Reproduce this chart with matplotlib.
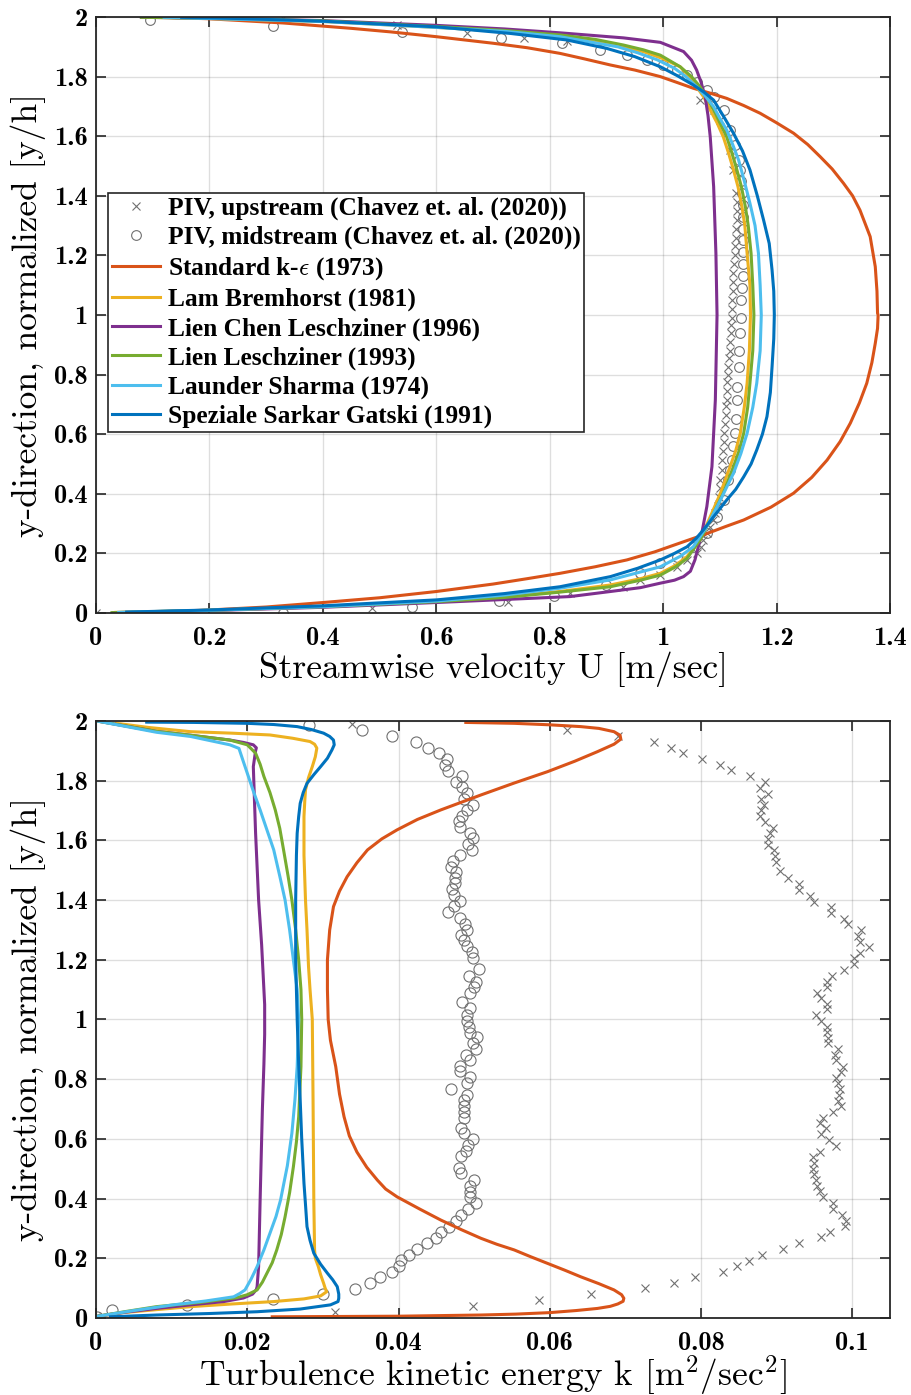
import matplotlib
matplotlib.use("Agg")
import matplotlib.pyplot as plt
from matplotlib.ticker import FixedLocator, FuncFormatter

plt.rcParams['mathtext.fontset'] = 'cm'

# ---------------- top panel: streamwise velocity U ----------------
piv_up_U = [0.0, 0.486, 0.727, 0.836, 0.93, 0.959, 0.995, 1.024, 1.042, 1.059, 1.066, 1.071,
            1.078, 1.083, 1.088, 1.092, 1.096, 1.098, 1.100, 1.101, 1.103, 1.104, 1.106, 1.107,
            1.107, 1.109, 1.110, 1.111, 1.112, 1.113, 1.112, 1.114, 1.115, 1.116, 1.117, 1.118,
            1.119, 1.120, 1.121, 1.121, 1.122, 1.123, 1.124, 1.124, 1.125, 1.126, 1.127, 1.128,
            1.129, 1.130, 1.131, 1.130, 1.128, 1.124, 1.118, 1.112, 1.101, 1.089, 1.065,
            0.83, 0.754, 0.654, 0.53, 0.33]
piv_up_y = [0.0, 0.016, 0.038, 0.067, 0.088, 0.111, 0.127, 0.155, 0.178, 0.200, 0.222, 0.245,
            0.267, 0.290, 0.312, 0.335, 0.360, 0.390, 0.420, 0.446, 0.480, 0.513, 0.545, 0.575,
            0.603, 0.635, 0.665, 0.695, 0.715, 0.745, 0.775, 0.800, 0.826, 0.855, 0.880, 0.910,
            0.938, 0.965, 0.990, 1.020, 1.050, 1.080, 1.110, 1.140, 1.170, 1.200, 1.230, 1.260,
            1.290, 1.320, 1.350, 1.380, 1.410, 1.487, 1.554, 1.610, 1.655, 1.688, 1.722,
            1.920, 1.928, 1.947, 1.973, 1.998]

piv_mid_U = [0.329, 0.558, 0.71, 0.807, 0.90, 0.959, 0.995, 1.024, 1.053, 1.077, 1.095, 1.107,
             1.115, 1.118, 1.121, 1.124, 1.127, 1.128, 1.130, 1.131, 1.133, 1.134, 1.136, 1.137,
             1.138, 1.139, 1.140, 1.140, 1.141, 1.141, 1.140, 1.141, 1.140, 1.139, 1.138, 1.136,
             1.133, 1.127, 1.118, 1.107, 1.089, 1.077, 1.059, 1.042, 1.024, 1.0, 0.971, 0.936,
             0.889, 0.821, 0.714, 0.539, 0.312, 0.095]
piv_mid_y = [0.001, 0.019, 0.041, 0.057, 0.095, 0.133, 0.166, 0.189, 0.222, 0.267, 0.323, 0.379,
             0.446, 0.480, 0.513, 0.560, 0.603, 0.650, 0.715, 0.760, 0.826, 0.880, 0.938, 0.990,
             1.050, 1.090, 1.130, 1.170, 1.210, 1.250, 1.290, 1.330, 1.370, 1.410, 1.450, 1.485,
             1.520, 1.570, 1.620, 1.688, 1.733, 1.755, 1.783, 1.805, 1.822, 1.839, 1.856, 1.872,
             1.889, 1.912, 1.928, 1.951, 1.970, 1.990]

ske_U = [0.10, 0.20, 0.30, 0.40, 0.50, 0.60, 0.70, 0.76, 0.818, 0.88, 0.936, 0.985, 1.030,
         1.071, 1.110, 1.142, 1.190, 1.230, 1.262, 1.289, 1.312, 1.330, 1.346, 1.359, 1.368,
         1.374, 1.378, 1.379, 1.378, 1.377, 1.374, 1.365, 1.347, 1.334, 1.318, 1.298, 1.277,
         1.255, 1.230, 1.200, 1.171, 1.142, 1.112, 1.082, 1.053, 1.025, 0.995, 0.95, 0.907,
         0.86, 0.818, 0.76, 0.70, 0.60, 0.52, 0.45, 0.33, 0.20, 0.12]
ske_y = [0.003, 0.010, 0.020, 0.035, 0.051, 0.072, 0.097, 0.115, 0.133, 0.155, 0.178, 0.205,
         0.235, 0.262, 0.290, 0.312, 0.355, 0.402, 0.455, 0.513, 0.575, 0.637, 0.705, 0.771,
         0.840, 0.905, 0.955, 1.0, 1.006, 1.08, 1.162, 1.263, 1.352, 1.400, 1.442, 1.490,
         1.531, 1.572, 1.610, 1.645, 1.677, 1.703, 1.727, 1.745, 1.761, 1.780, 1.800, 1.822,
         1.839, 1.860, 1.878, 1.897, 1.912, 1.934, 1.950, 1.962, 1.980, 1.994, 1.999]

lb_U = [0.035, 0.2, 0.40, 0.601, 0.72, 0.818, 0.907, 0.96, 0.995, 1.022, 1.042, 1.065, 1.083,
        1.101, 1.118, 1.128, 1.136, 1.143, 1.148, 1.152, 1.154, 1.153, 1.148, 1.144, 1.139,
        1.132, 1.124, 1.115, 1.106, 1.095, 1.083, 1.072, 1.059, 1.046, 1.030, 1.0, 0.965,
        0.90, 0.818, 0.72, 0.601, 0.40, 0.2, 0.10]
lb_y = [0.002, 0.009, 0.021, 0.038, 0.054, 0.072, 0.094, 0.115, 0.133, 0.160, 0.189, 0.245,
        0.323, 0.402, 0.491, 0.545, 0.603, 0.690, 0.771, 0.880, 1.0, 1.1, 1.207, 1.300, 1.363,
        1.430, 1.487, 1.545, 1.598, 1.645, 1.688, 1.730, 1.766, 1.800, 1.833, 1.860, 1.884,
        1.910, 1.934, 1.952, 1.965, 1.985, 1.995, 1.999]

lcl_U = [0.03, 0.2, 0.40, 0.636, 0.836, 0.907, 0.96, 0.995, 1.02, 1.036, 1.048, 1.056, 1.068,
         1.077, 1.086, 1.092, 1.095, 1.093, 1.089, 1.083, 1.079, 1.074, 1.067, 1.059, 1.050,
         1.036, 0.995, 0.93, 0.818, 0.72, 0.60, 0.40, 0.2, 0.08]
lcl_y = [0.001, 0.008, 0.019, 0.038, 0.055, 0.072, 0.085, 0.100, 0.110, 0.122, 0.140, 0.178,
         0.267, 0.357, 0.491, 0.715, 1.0, 1.207, 1.431, 1.598, 1.670, 1.733, 1.780, 1.822,
         1.855, 1.884, 1.915, 1.930, 1.947, 1.960, 1.972, 1.988, 1.996, 1.999]

ll_U = [0.028, 0.2, 0.40, 0.601, 0.72, 0.818, 0.907, 0.96, 0.995, 1.022, 1.042, 1.065, 1.086,
        1.106, 1.124, 1.134, 1.142, 1.149, 1.153, 1.158, 1.160, 1.158, 1.155, 1.150, 1.145,
        1.138, 1.130, 1.121, 1.112, 1.100, 1.089, 1.077, 1.065, 1.050, 1.030, 0.995, 0.965,
        0.93, 0.88, 0.818, 0.72, 0.601, 0.40, 0.2, 0.08]
ll_y = [0.001, 0.009, 0.021, 0.038, 0.052, 0.070, 0.088, 0.110, 0.127, 0.155, 0.183, 0.245,
        0.323, 0.402, 0.491, 0.545, 0.603, 0.690, 0.771, 0.880, 1.0, 1.1, 1.207, 1.300, 1.363,
        1.430, 1.487, 1.545, 1.598, 1.645, 1.688, 1.730, 1.766, 1.800, 1.833, 1.872, 1.890,
        1.906, 1.925, 1.940, 1.955, 1.968, 1.987, 1.996, 1.999]

ls_U = [0.04, 0.2, 0.40, 0.601, 0.72, 0.818, 0.907, 0.995, 1.03, 1.053, 1.077, 1.101, 1.124,
        1.137, 1.148, 1.158, 1.165, 1.171, 1.173, 1.171, 1.168, 1.162, 1.153, 1.143, 1.133,
        1.122, 1.112, 1.100, 1.089, 1.075, 1.059, 1.040, 1.020, 0.99, 0.955, 0.92, 0.818,
        0.72, 0.601, 0.40, 0.2, 0.12]
ls_y = [0.002, 0.009, 0.021, 0.040, 0.060, 0.083, 0.111, 0.155, 0.190, 0.222, 0.290, 0.379,
        0.469, 0.535, 0.603, 0.690, 0.771, 0.880, 1.0, 1.1, 1.207, 1.300, 1.375, 1.450, 1.520,
        1.575, 1.621, 1.660, 1.699, 1.733, 1.766, 1.800, 1.828, 1.856, 1.880, 1.900, 1.934,
        1.952, 1.965, 1.985, 1.995, 1.999]

ssg_U = [0.054, 0.2, 0.40, 0.601, 0.72, 0.818, 0.907, 0.955, 0.995, 1.020, 1.042, 1.058, 1.071,
         1.089, 1.112, 1.128, 1.142, 1.155, 1.165, 1.175, 1.183, 1.189, 1.192, 1.195, 1.196,
         1.195, 1.192, 1.187, 1.177, 1.166, 1.153, 1.140, 1.124, 1.107, 1.089, 1.072, 1.053,
         1.025, 0.995, 0.95, 0.90, 0.83, 0.73, 0.601, 0.40, 0.25, 0.151]
ssg_y = [0.003, 0.010, 0.024, 0.044, 0.065, 0.088, 0.122, 0.150, 0.178, 0.200, 0.222, 0.250,
         0.279, 0.323, 0.379, 0.415, 0.457, 0.500, 0.547, 0.600, 0.659, 0.740, 0.826, 0.920,
         1.0, 1.08, 1.151, 1.240, 1.319, 1.400, 1.487, 1.550, 1.610, 1.665, 1.721, 1.748,
         1.772, 1.803, 1.833, 1.867, 1.895, 1.923, 1.945, 1.967, 1.986, 1.995, 1.999]

# ---------------- bottom panel: turbulence kinetic energy k ----------------
piv_up_k = [0.0, 0.0316, 0.0499, 0.0586, 0.0655, 0.0726, 0.0764, 0.0792, 0.0829, 0.0848, 0.0863,
            0.0881, 0.0908, 0.0929, 0.0959, 0.0970, 0.0991, 0.0992, 0.0986, 0.0974, 0.0974,
            0.0962, 0.0957, 0.0953, 0.0952, 0.0949, 0.0948, 0.0949, 0.0948, 0.0958, 0.0979,
            0.0969, 0.0959, 0.0965, 0.0957, 0.0962, 0.0975, 0.0985, 0.0981, 0.0982, 0.0984,
            0.0981, 0.0979, 0.0985, 0.0988, 0.0978, 0.0977, 0.0981, 0.0968, 0.0968, 0.0966,
            0.0966, 0.0959, 0.0952, 0.0966, 0.0966, 0.0959, 0.0953, 0.0966, 0.0966, 0.0973,
            0.0989, 0.1002, 0.1002, 0.1010, 0.1022, 0.1010, 0.1007, 0.1012, 0.0995, 0.0989,
            0.0972, 0.0972, 0.0950, 0.0944, 0.0929, 0.0929, 0.0915, 0.0905, 0.0899, 0.0898,
            0.0897, 0.0888, 0.0889, 0.0891, 0.0895, 0.0885, 0.0878, 0.0879, 0.0883, 0.0879,
            0.0888, 0.0878, 0.0885, 0.0865, 0.0840, 0.0825, 0.0802, 0.0776, 0.0760, 0.0738,
            0.0690, 0.0623, 0.0339]
piv_up_ky = [0.004, 0.021, 0.040, 0.060, 0.079, 0.099, 0.116, 0.136, 0.155, 0.174, 0.192,
             0.211, 0.230, 0.250, 0.270, 0.289, 0.308, 0.326, 0.345, 0.365, 0.384,
             0.406, 0.426, 0.443, 0.462, 0.481, 0.498, 0.518, 0.538, 0.557, 0.577,
             0.596, 0.616, 0.635, 0.652, 0.669, 0.691, 0.710, 0.728, 0.747, 0.766,
             0.786, 0.803, 0.825, 0.842, 0.864, 0.881, 0.900, 0.920, 0.937, 0.957,
             0.976, 0.996, 1.015, 1.034, 1.052, 1.071, 1.090, 1.110, 1.127, 1.146,
             1.166, 1.186, 1.205, 1.224, 1.242, 1.261, 1.280, 1.300, 1.319, 1.337,
             1.358, 1.376, 1.395, 1.414, 1.434, 1.453, 1.473, 1.497, 1.527, 1.547,
             1.567, 1.586, 1.605, 1.624, 1.641, 1.660, 1.680, 1.700, 1.719, 1.738,
             1.755, 1.774, 1.797, 1.814, 1.834, 1.852, 1.872, 1.892, 1.909, 1.929,
             1.948, 1.968, 1.990]

piv_mid_k = [0.0001, 0.0021, 0.0120, 0.0234, 0.0300, 0.0342, 0.0362, 0.0376, 0.0392, 0.0400,
             0.0403, 0.0414, 0.0425, 0.0438, 0.0449, 0.0456, 0.0467, 0.0476, 0.0482, 0.0492,
             0.0502, 0.0494, 0.0494, 0.0494, 0.0500, 0.0482, 0.0480, 0.0482, 0.0489, 0.0492,
             0.0499, 0.0486, 0.0482, 0.0486, 0.0487, 0.0486, 0.0487, 0.0491, 0.0470, 0.0491,
             0.0495, 0.0481, 0.0481, 0.0495, 0.0489, 0.0502, 0.0498, 0.0504, 0.0495, 0.0493,
             0.0491, 0.0491, 0.0495, 0.0484, 0.0495, 0.0500, 0.0502, 0.0493, 0.0506, 0.0498,
             0.0497, 0.0491, 0.0487, 0.0482, 0.0491, 0.0488, 0.0481, 0.0466, 0.0474, 0.0481,
             0.0474, 0.0471, 0.0475, 0.0475, 0.0476, 0.0470, 0.0472, 0.0481, 0.0497, 0.0492,
             0.0498, 0.0495, 0.0481, 0.0480, 0.0484, 0.0490, 0.0498, 0.0487, 0.0491, 0.0484,
             0.0476, 0.0484, 0.0466, 0.0462, 0.0464, 0.0453, 0.0439, 0.0423, 0.0392, 0.0352,
             0.0281]
piv_mid_ky = [0.004, 0.027, 0.044, 0.063, 0.079, 0.097, 0.116, 0.136, 0.155, 0.174,
              0.194, 0.211, 0.230, 0.250, 0.269, 0.289, 0.306, 0.326, 0.345, 0.365,
              0.386, 0.404, 0.421, 0.442, 0.462, 0.485, 0.502, 0.541, 0.561, 0.578,
              0.599, 0.619, 0.636, 0.670, 0.689, 0.709, 0.729, 0.748, 0.767, 0.787,
              0.806, 0.826, 0.843, 0.863, 0.882, 0.901, 0.920, 0.940, 0.955, 0.975,
              0.995, 1.015, 1.038, 1.057, 1.090, 1.110, 1.127, 1.146, 1.170, 1.206,
              1.226, 1.245, 1.265, 1.282, 1.301, 1.321, 1.340, 1.360, 1.379, 1.398,
              1.418, 1.437, 1.457, 1.474, 1.494, 1.512, 1.532, 1.552, 1.568, 1.589,
              1.608, 1.624, 1.645, 1.664, 1.680, 1.700, 1.719, 1.738, 1.758, 1.778,
              1.797, 1.814, 1.832, 1.852, 1.872, 1.892, 1.909, 1.929, 1.948, 1.968,
              1.987]

ske_k = [0.0233, 0.0400, 0.0509, 0.0555, 0.0600, 0.0635, 0.0663, 0.0680, 0.0690, 0.0697,
         0.0698, 0.0695, 0.0685, 0.0665, 0.0641, 0.0620, 0.0597, 0.0575, 0.0553, 0.0530,
         0.0509, 0.0483, 0.0456, 0.0428, 0.0398, 0.0383, 0.0372, 0.0358, 0.0345, 0.0335,
         0.0328, 0.0322, 0.0317, 0.0310, 0.0307, 0.0306, 0.0306, 0.0309, 0.0314, 0.0322,
         0.0332, 0.0345, 0.0359, 0.0378, 0.0398, 0.0425, 0.0456, 0.0509, 0.0553, 0.0597,
         0.0633, 0.0663, 0.0685, 0.0694, 0.0693, 0.0685, 0.0665, 0.0641, 0.0600, 0.0553,
         0.0489]
ske_ky = [0.004, 0.006, 0.010, 0.013, 0.018, 0.025, 0.032, 0.039, 0.047, 0.056,
          0.066, 0.078, 0.094, 0.115, 0.138, 0.160, 0.183, 0.205, 0.228, 0.247,
          0.267, 0.296, 0.328, 0.365, 0.406, 0.432, 0.462, 0.505, 0.556, 0.610,
          0.674, 0.750, 0.842, 0.930, 1.0, 1.1, 1.2, 1.300, 1.378, 1.430,
          1.478, 1.525, 1.568, 1.605, 1.635, 1.670, 1.702, 1.752, 1.792, 1.830,
          1.865, 1.897, 1.922, 1.939, 1.952, 1.964, 1.975, 1.981, 1.987, 1.992,
          1.995]

lb_k = [0.0, 0.0036, 0.0080, 0.0125, 0.0180, 0.0235, 0.0275, 0.0297, 0.0305, 0.0303, 0.0301,
        0.0297, 0.0294, 0.0290, 0.0289, 0.0288, 0.0287, 0.0286, 0.0283, 0.0281, 0.0279, 0.0277,
        0.0275, 0.0275, 0.0276, 0.0277, 0.0281, 0.0286, 0.0290, 0.0292, 0.0289, 0.0283, 0.0260,
        0.0230, 0.0180, 0.0125, 0.0070, 0.0027]
lb_ky = [0.005, 0.018, 0.028, 0.038, 0.047, 0.055, 0.064, 0.074, 0.088, 0.100, 0.116,
         0.145, 0.172, 0.200, 0.228, 0.395, 0.730, 1.0, 1.1, 1.177, 1.300, 1.400,
         1.550, 1.680, 1.730, 1.769, 1.810, 1.847, 1.880, 1.909, 1.922, 1.931, 1.942,
         1.953, 1.959, 1.964, 1.978, 1.992]

lcl_k = [0.0, 0.0040, 0.0080, 0.0125, 0.0169, 0.0195, 0.0207, 0.0212, 0.0213, 0.0215, 0.0217,
         0.0220, 0.0222, 0.0223, 0.0223, 0.0221, 0.0219, 0.0215, 0.0211, 0.0208, 0.0211, 0.0212,
         0.0208, 0.0195, 0.0177, 0.0125, 0.0080, 0.0003]
lcl_ky = [0.005, 0.020, 0.032, 0.044, 0.055, 0.067, 0.080, 0.095, 0.105, 0.172, 0.395,
          0.700, 0.850, 0.950, 1.050, 1.150, 1.250, 1.40, 1.624, 1.847, 1.900, 1.910,
          1.920, 1.928, 1.936, 1.952, 1.965, 1.999]

ll_k = [0.0, 0.0040, 0.0080, 0.0140, 0.0186, 0.0200, 0.0213, 0.0220, 0.0226, 0.0233, 0.0239,
        0.0245, 0.0250, 0.0256, 0.0261, 0.0265, 0.0268, 0.0271, 0.0272, 0.0271, 0.0268, 0.0264,
        0.0259, 0.0254, 0.0248, 0.0243, 0.0237, 0.0230, 0.0222, 0.0217, 0.0211, 0.0200, 0.0177,
        0.0125, 0.0080, 0.0003]
ll_ky = [0.005, 0.022, 0.038, 0.053, 0.068, 0.078, 0.094, 0.120, 0.150, 0.185, 0.228,
         0.280, 0.339, 0.420, 0.507, 0.590, 0.674, 0.842, 1.0, 1.1, 1.199, 1.300,
         1.400, 1.480, 1.568, 1.640, 1.702, 1.760, 1.814, 1.855, 1.892, 1.920, 1.936,
         1.952, 1.965, 1.999]

ls_k = [0.0, 0.0050, 0.0102, 0.0145, 0.0182, 0.0190, 0.0197, 0.0205, 0.0213, 0.0222, 0.0230,
        0.0238, 0.0244, 0.0253, 0.0259, 0.0263, 0.0266, 0.0268, 0.0266, 0.0261, 0.0256, 0.0250,
        0.0243, 0.0235, 0.0226, 0.0217, 0.0208, 0.0200, 0.0194, 0.0189, 0.0177, 0.0125, 0.0080,
        0.0003]
ls_ky = [0.005, 0.025, 0.044, 0.057, 0.071, 0.082, 0.094, 0.130, 0.172, 0.228, 0.284,
         0.340, 0.395, 0.510, 0.619, 0.730, 0.842, 1.0, 1.1, 1.199, 1.300, 1.400,
         1.480, 1.568, 1.635, 1.702, 1.765, 1.825, 1.870, 1.908, 1.920, 1.948, 1.962,
         1.999]

ssg_k = [0.0019, 0.0080, 0.0150, 0.0213, 0.0270, 0.0310, 0.0320, 0.0321, 0.0321, 0.0319, 0.0313,
         0.0306, 0.0297, 0.0288, 0.0283, 0.0279, 0.0277, 0.0275, 0.0272, 0.0270, 0.0268, 0.0266,
         0.0264, 0.0264, 0.0265, 0.0266, 0.0268, 0.0270, 0.0274, 0.0279, 0.0288, 0.0297, 0.0306,
         0.0312, 0.0315, 0.0314, 0.0309, 0.0301, 0.0285, 0.0266, 0.0235, 0.0200, 0.0130, 0.0067]
ssg_ky = [0.004, 0.010, 0.015, 0.021, 0.030, 0.044, 0.055, 0.066, 0.080, 0.105, 0.128,
          0.150, 0.180, 0.217, 0.260, 0.306, 0.380, 0.451, 0.600, 0.730, 0.850, 1.0,
          1.200, 1.400, 1.550, 1.624, 1.680, 1.724, 1.760, 1.791, 1.820, 1.847, 1.875,
          1.903, 1.920, 1.936, 1.948, 1.959, 1.971, 1.981, 1.988, 1.992, 1.995, 1.996]

labels = ['PIV, upstream (Chavez et. al. (2020))',
          'PIV, midstream (Chavez et. al. (2020))',
          r'Standard k-$\epsilon$ (1973)',
          'Lam Bremhorst (1981)',
          'Lien Chen Leschziner (1996)',
          'Lien Leschziner (1993)',
          'Launder Sharma (1974)',
          'Speziale Sarkar Gatski (1991)']
colors = ['#D95319', '#EDB120', '#7E2F8E', '#77AC30', '#4DBEEE', '#0072BD']
marker_color = '#707070'
lw = 2.2


def style_axes(ax, xticks, xlim, xlabel):
    ax.set_xlim(*xlim)
    ax.set_ylim(0, 2)
    ax.xaxis.set_major_locator(FixedLocator(xticks))
    ax.yaxis.set_major_locator(FixedLocator([0, 0.2, 0.4, 0.6, 0.8, 1, 1.2, 1.4, 1.6, 1.8, 2]))
    fmt = FuncFormatter(lambda v, p: ('%.2f' % v).rstrip('0').rstrip('.'))
    ax.xaxis.set_major_formatter(fmt)
    ax.yaxis.set_major_formatter(fmt)
    ax.tick_params(direction='in', length=7, width=1.2, top=True, right=True,
                   color='#262626', labelfontfamily='cmb10', labelsize=19)
    ax.tick_params(axis='x', pad=10)
    ax.tick_params(axis='y', pad=6)
    ax.grid(True, color='#262626', alpha=0.15, linewidth=1.0)
    ax.set_axisbelow(True)
    for s in ax.spines.values():
        s.set_color('#262626')
        s.set_linewidth(1.3)
    ax.set_ylabel('y-direction, normalized [y/h]', fontfamily='cmr10', fontsize=25.5,
                  va='center', ha='center')
    ax.yaxis.set_label_coords(-0.086, 0.5)
    ax.set_xlabel(xlabel, fontfamily='cmr10', fontsize=25.5, va='center', ha='center')
    ax.xaxis.set_label_coords(0.5, -0.095)


fig = plt.figure(figsize=(9.12, 13.95), dpi=100)
ax1 = fig.add_axes([0.1053, 0.5606, 0.8706, 0.4272])
ax2 = fig.add_axes([0.1053, 0.0552, 0.8706, 0.4280])

# top panel
ax1.plot(piv_up_U, piv_up_y, 'x', color=marker_color, ms=5.5, mew=0.8, label=labels[0])
ax1.plot(piv_mid_U, piv_mid_y, 'o', color=marker_color, mfc='none', ms=7, mew=0.8, label=labels[1])
top_series = [(ske_U, ske_y), (lb_U, lb_y), (lcl_U, lcl_y), (ll_U, ll_y), (ls_U, ls_y), (ssg_U, ssg_y)]
for (u, y), c, lab in zip(top_series, colors, labels[2:]):
    ax1.plot(u, y, color=c, lw=lw, label=lab)
style_axes(ax1, [0, 0.2, 0.4, 0.6, 0.8, 1, 1.2, 1.4], (0, 1.4), 'Streamwise velocity U [m/sec]')

leg = ax1.legend(loc='upper left', bbox_to_anchor=(0.015, 0.705), borderaxespad=0,
                 prop={'family': 'Liberation Serif', 'weight': 'bold', 'size': 18.3},
                 handlelength=1.9, handletextpad=0.3, labelspacing=0.23,
                 borderpad=0.15, fancybox=False, framealpha=1)
leg.get_frame().set_edgecolor('#262626')
leg.get_frame().set_linewidth(1.2)

# bottom panel
ax2.plot(piv_up_k, piv_up_ky, 'x', color=marker_color, ms=5.5, mew=0.8)
ax2.plot(piv_mid_k, piv_mid_ky, 'o', color=marker_color, mfc='none', ms=8, mew=0.8)
bot_series = [(ske_k, ske_ky), (lb_k, lb_ky), (lcl_k, lcl_ky), (ll_k, ll_ky), (ls_k, ls_ky), (ssg_k, ssg_ky)]
for (k, y), c in zip(bot_series, colors):
    ax2.plot(k, y, color=c, lw=lw)
style_axes(ax2, [0, 0.02, 0.04, 0.06, 0.08, 0.1], (0, 0.105),
           r'Turbulence kinetic energy k [m$^2$/sec$^2$]')

fig.savefig('out.png', dpi=100)
